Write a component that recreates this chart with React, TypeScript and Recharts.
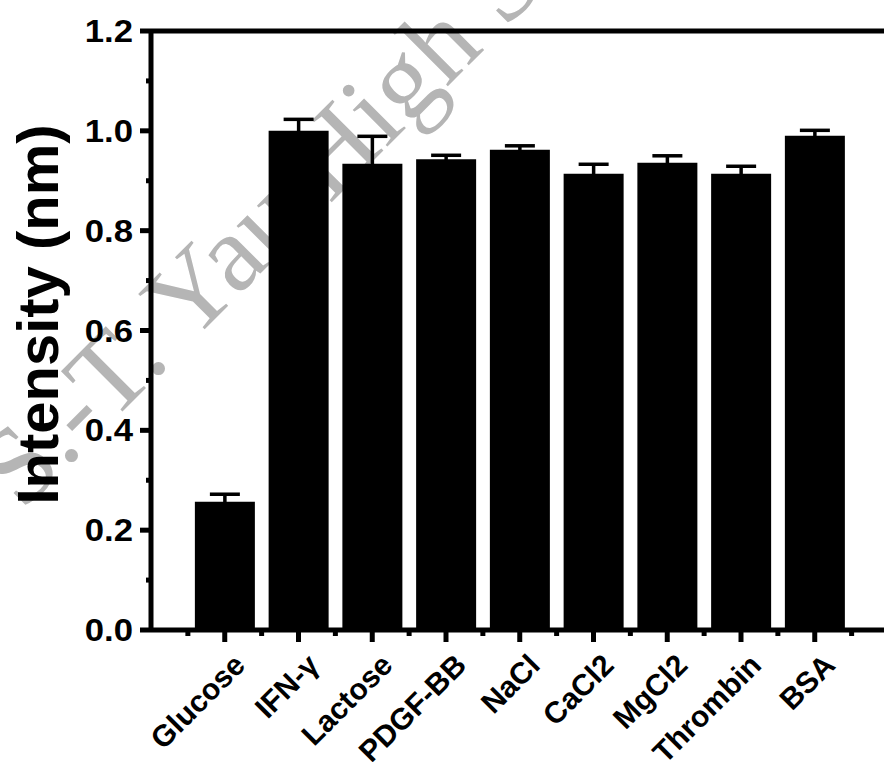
import { BarChart, Bar, XAxis, YAxis, ErrorBar, ReferenceLine } from 'recharts';

const categories = ['Glucose', 'IFN-γ', 'Lactose', 'PDGF-BB', 'NaCl', 'CaCl2', 'MgCl2', 'Thrombin', 'BSA'];
const intensity = [0.257, 1.0, 0.934, 0.943, 0.962, 0.914, 0.936, 0.914, 0.99];
const errors = [0.015, 0.023, 0.055, 0.008, 0.008, 0.019, 0.014, 0.015, 0.011];
const yTicks = [0, 0.1, 0.2, 0.3, 0.4, 0.5, 0.6, 0.7, 0.8, 0.9, 1.0, 1.1, 1.2];
const xTicks = [0.5, 1, 1.5, 2, 2.5, 3, 3.5, 4, 4.5, 5, 5.5, 6, 6.5, 7, 7.5, 8, 8.5, 9, 9.5];

const data = categories.map((name, i) => ({ pos: i + 1, name, value: intensity[i], err: errors[i] }));

const FONT = '"Liberation Sans", Arial, Helvetica, sans-serif';

// y ticks: long ones with labels every 0.2, short ones in between
const YTick = (props: any) => {
  const { x, y, payload } = props;
  const v = payload.value;
  const major = Math.round(v * 10) % 2 === 0;
  return (
    <g>
      <line x1={major ? x : x + 6} x2={x + 11} y1={y} y2={y} stroke="#000" strokeWidth={5} />
      {major && (
        <text x={x - 7} y={y} dy="0.36em" textAnchor="end" fontFamily={FONT} fontWeight="bold" fontSize={31} fill="#000"
          transform={`translate(${x - 7} ${y}) scale(1.12 1) translate(${-(x - 7)} ${-y})`}>
          {v.toFixed(1)}
        </text>
      )}
    </g>
  );
};

const XTick = (props: any) => {
  const { x, y, payload } = props;
  const v = payload.value;
  const major = Number.isInteger(v);
  const lx = x + 22;
  const ly = y + 25;
  return (
    <g>
      <line x1={x} x2={x} y1={y - 12} y2={major ? y : y - 6} stroke="#000" strokeWidth={5} />
      {major && (
        <text x={lx} y={ly} textAnchor="end" transform={`rotate(-45 ${lx} ${ly})`} fontFamily={FONT} fontWeight="bold" fontSize={30} fill="#000">
          {categories[v - 1]}
        </text>
      )}
    </g>
  );
};

const YLabel = (props: any) => {
  const { viewBox } = props;
  const cx = viewBox.x + 58;
  const cy = viewBox.y + viewBox.height / 2 - 16;
  return (
    <text x={cx} y={cy} textAnchor="middle" transform={`rotate(-90 ${cx} ${cy})`} fontFamily={FONT} fontWeight="bold" fontSize={58} fill="#000">
      Intensity (nm)
    </text>
  );
};

export default function App() {
  return (
    <div style={{ position: 'fixed', left: 0, top: 0, width: 884, height: 762, overflow: 'hidden', background: '#fff' }}>
      <svg width={884} height={762} style={{ position: 'absolute', left: 0, top: 0 }}>
        <text x={22} y={512} transform="rotate(-45 22 512)" fontFamily='"Liberation Serif", "Times New Roman", serif' fontSize={110} fill="#b5b5b5">
          S.-T. Yau High School
        </text>
      </svg>
      <div style={{ position: 'absolute', left: 0, top: 0 }}>
        <BarChart width={900} height={762} data={data} margin={{ top: 31, right: 11.5, bottom: 0, left: 0 }}>
          <XAxis
            dataKey="pos"
            type="number"
            domain={[0, 10]}
            ticks={xTicks}
            interval={0}
            height={132}
            tickSize={12}
            tickMargin={0}
            tickLine={false}
            axisLine={{ stroke: '#000', strokeWidth: 5 }}
            tick={<XTick />}
          />
          <YAxis
            domain={[0, 1.2]}
            ticks={yTicks}
            interval={0}
            width={151}
            tickSize={11}
            tickMargin={0}
            tickLine={false}
            axisLine={{ stroke: '#000', strokeWidth: 5 }}
            tick={<YTick />}
            label={<YLabel />}
          />
          <ReferenceLine y={1.2} stroke="#000" strokeWidth={5} />
          <Bar dataKey="value" fill="#000" barSize={60} isAnimationActive={false}>
            <ErrorBar dataKey="err" width={15} strokeWidth={3.5} stroke="#000" direction="y" />
          </Bar>
        </BarChart>
      </div>
    </div>
  );
}
